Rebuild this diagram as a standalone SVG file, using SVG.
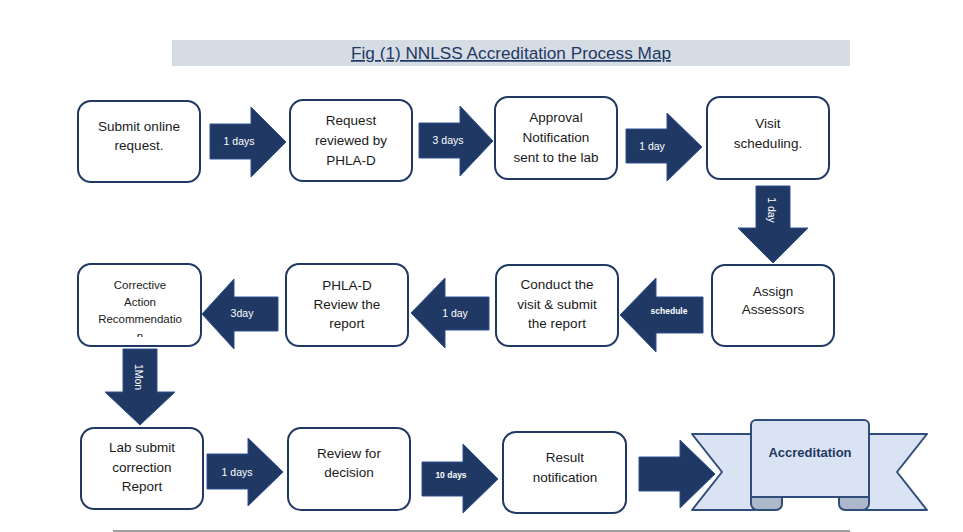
<svg xmlns="http://www.w3.org/2000/svg" width="963" height="532" viewBox="0 0 963 532">
<defs>
<style>
.box{fill:#fff;stroke:#1f3864;stroke-width:2}
.t{font-family:"Liberation Sans",Arial,sans-serif;font-size:13.5px;fill:#1a1a1a;text-anchor:middle}
.ts{font-family:"Liberation Sans",Arial,sans-serif;font-size:11.5px;fill:#1a1a1a;text-anchor:middle}
.arr{fill:#203864;stroke:#2e5090;stroke-width:1}
.al{font-family:"Liberation Sans",Arial,sans-serif;font-size:10.5px;fill:#fff;text-anchor:middle}
.als{font-family:"Liberation Sans",Arial,sans-serif;font-size:8.5px;font-weight:bold;fill:#fff;text-anchor:middle}
.rib{fill:#dae3f3;stroke:#2f4d7a;stroke-width:2;stroke-linejoin:round}
.roll{fill:#adb9ca;stroke:#2f4d7a;stroke-width:2;stroke-linejoin:round}
</style>
<clipPath id="c8"><rect x="79" y="265" width="121" height="72"/></clipPath>
</defs>
<rect x="172" y="40" width="678" height="26" fill="#d6dce4"/>
<text x="511" y="59" font-family="Liberation Sans,Arial,sans-serif" font-size="17.2" fill="#1f3864" text-anchor="middle" text-decoration="underline">Fig (1) NNLSS Accreditation Process Map</text>
<line x1="113" y1="531" x2="850" y2="531" stroke="#808080" stroke-width="1.5"/>

<g id="connectors">
<polygon class="arr" points="210,124 251,124 251,107 286,142 251,177 251,159 210,159"/>
<text class="al" x="239" y="145">1 days</text>
<polygon class="arr" points="419,123 460,123 460,106 493,141 460,176 460,158 419,158"/>
<text class="al" x="448" y="144">3 days</text>
<polygon class="arr" points="626,129 667,129 667,113 702,147 667,181 667,163 626,163"/>
<text class="al" x="652" y="150">1 day</text>
<polygon class="arr" points="756,186 790,186 790,228 808,228 773,263 738,228 756,228"/>
<text class="al" transform="translate(768,210) rotate(90)" x="0" y="0">1 day</text>
<polygon class="arr" points="703,297 656,297 656,278 620,315 656,352 656,333 703,333"/>
<text class="als" x="669" y="314">schedule</text>
<polygon class="arr" points="489,297 445,297 445,278 411,313 445,348 445,330 489,330"/>
<text class="al" x="455" y="317">1 day</text>
<polygon class="arr" points="278,297 234,297 234,279 202,314 234,349 234,331 278,331"/>
<text class="al" x="242" y="317">3day</text>
<polygon class="arr" points="123,349 157,349 157,392 175,392 140,425 105,392 123,392"/>
<text class="al" transform="translate(135,377) rotate(90)" x="0" y="0">1Mon</text>
<polygon class="arr" points="207,454 248,454 248,438 283,472 248,506 248,489 207,489"/>
<text class="al" x="237" y="476">1 days</text>
<polygon class="arr" points="422,462 463,462 463,444 498,479 463,513 463,496 422,496"/>
<text class="als" x="451" y="478">10 days</text>
<polygon class="arr" points="639,457 680,457 680,440 715,474 680,508 680,491 639,491"/>
</g>

<g id="n1"><rect class="box" x="78" y="101" width="122" height="81" rx="13"/>
<text class="t" x="139" y="131">Submit online</text><text class="t" x="139" y="150">request.</text></g>
<g id="n2"><rect class="box" x="290" y="100" width="122" height="81" rx="13"/>
<text class="t" x="351" y="125">Request</text><text class="t" x="351" y="145">reviewed by</text><text class="t" x="351" y="165">PHLA-D</text></g>
<g id="n3"><rect class="box" x="495" y="97" width="122" height="82" rx="13"/>
<text class="t" x="556" y="122">Approval</text><text class="t" x="556" y="142">Notification</text><text class="t" x="556" y="162">sent to the lab</text></g>
<g id="n4"><rect class="box" x="707" y="97" width="122" height="82" rx="13"/>
<text class="t" x="768" y="128">Visit</text><text class="t" x="768" y="148">scheduling.</text></g>
<g id="n5"><rect class="box" x="712" y="265" width="122" height="81" rx="13"/>
<text class="t" x="773" y="296">Assign</text><text class="t" x="773" y="314">Assessors</text></g>
<g id="n6"><rect class="box" x="496" y="265" width="122" height="81" rx="13"/>
<text class="t" x="557" y="289">Conduct the</text><text class="t" x="557" y="309">visit &amp; submit</text><text class="t" x="557" y="328">the report</text></g>
<g id="n7"><rect class="box" x="286" y="264" width="122" height="82" rx="13"/>
<text class="t" x="347" y="290">PHLA-D</text><text class="t" x="347" y="309">Review the</text><text class="t" x="347" y="328">report</text></g>
<g id="n8"><rect class="box" x="78" y="264" width="123" height="82" rx="13"/>
<g clip-path="url(#c8)"><text class="ts" x="140" y="289">Corrective</text><text class="ts" x="140" y="306">Action</text><text class="ts" x="140" y="323">Recommendatio</text><text class="ts" x="140" y="340">n</text></g></g>
<g id="n9"><rect class="box" x="81" y="428" width="122" height="81" rx="13"/>
<text class="t" x="142" y="452">Lab submit</text><text class="t" x="142" y="472">correction</text><text class="t" x="142" y="491">Report</text></g>
<g id="n10"><rect class="box" x="288" y="428" width="122" height="82" rx="13"/>
<text class="t" x="349" y="458">Review for</text><text class="t" x="349" y="477">decision</text></g>
<g id="n11"><rect class="box" x="503" y="432" width="123" height="81" rx="13"/>
<text class="t" x="565" y="462">Result</text><text class="t" x="565" y="482">notification</text></g>

<g id="n12">
<path class="rib" d="M692,434 L755,434 L755,510 L692,510 L722,472 Z"/>
<path class="rib" d="M927,434 L865,434 L865,510 L927,510 L897,472 Z"/>
<path class="roll" d="M751,497 H782 V504 A6,6 0 0 1 776,510 H757 A6.5,6.5 0 0 1 751,503.5 Z"/>
<path class="roll" d="M869,497 H839 V504 A6,6 0 0 0 845,510 H863 A6.5,6.5 0 0 0 869,503.5 Z"/>
<path class="rib" d="M756,420 H864 A5,5 0 0 1 869,425 V497 H751 V425 A5,5 0 0 1 756,420 Z"/>
<text x="810" y="457" font-family="Liberation Sans,Arial,sans-serif" font-size="13" font-weight="bold" fill="#1f3864" text-anchor="middle">Accreditation</text>
</g>
</svg>
